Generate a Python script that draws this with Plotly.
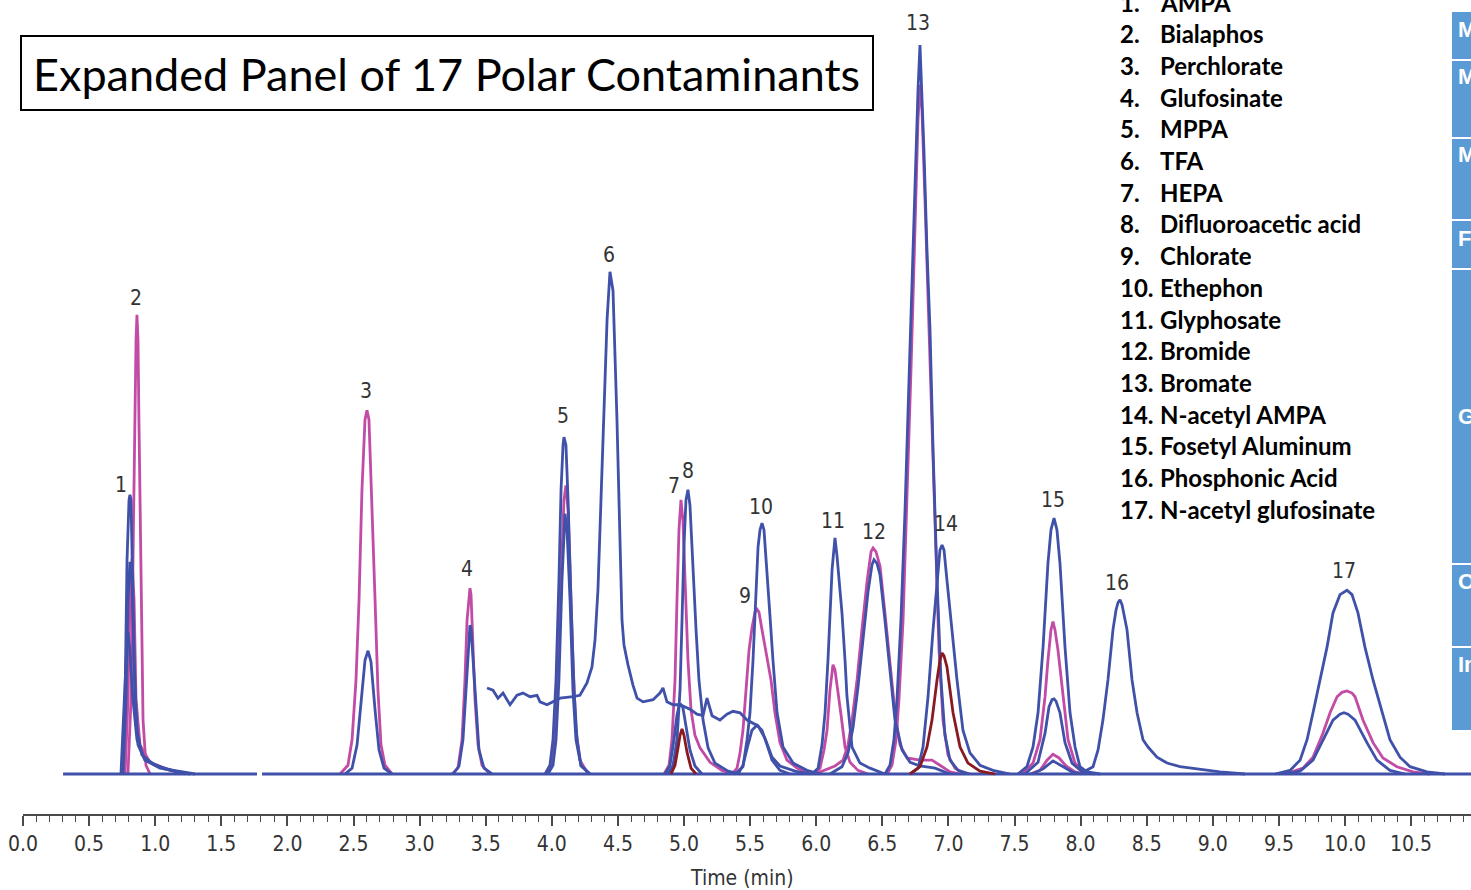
import plotly.graph_objects as go

# ---------------------------------------------------------------------------
# Chromatogram traces: (retention time [min], relative response [% of Bromate])
# ---------------------------------------------------------------------------
baseline_a = [(0.303, 0), (1.770, 0)]
baseline_b = [(1.808, 0), (11.00, 0)]

p1_blue_a = [(0.749, 0), (0.772, 10.2), (0.787, 29.4), (0.802, 37.6), (0.809, 38.3), (0.817, 37.6),
             (0.832, 23.9), (0.847, 10.2), (0.870, 4.0), (0.923, 1.9), (1.036, 0.8), (1.188, 0.3), (1.301, 0)]
p1_blue_b = [(0.756, 0), (0.779, 10.2), (0.794, 23.9), (0.809, 29.1), (0.825, 26.6), (0.840, 15.6),
             (0.862, 6.0), (0.900, 2.6), (0.998, 1.2), (1.150, 0.4), (1.263, 0)]
p1_blue_c = [(0.741, 0), (0.764, 10.2), (0.787, 18.4), (0.794, 19.5), (0.809, 17.0), (0.832, 10.2),
             (0.862, 4.7), (0.923, 1.9), (1.074, 0.7), (1.225, 0)]
p1_magenta = [(0.772, 0), (0.794, 10.2), (0.809, 23.9), (0.825, 29.6), (0.840, 23.9), (0.855, 10.2),
              (0.885, 4.0), (0.961, 1.6), (1.112, 0.5), (1.263, 0)]
p2_magenta = [(0.794, 0), (0.817, 10.2), (0.832, 29.4), (0.847, 51.3), (0.855, 59.5), (0.862, 63.0),
              (0.870, 59.5), (0.877, 48.6), (0.893, 23.9), (0.908, 7.4), (0.930, 1.2), (0.961, 0)]

p3_magenta = [(2.398, 0), (2.458, 1.2), (2.489, 4.7), (2.519, 12.9), (2.542, 23.9), (2.564, 39.0),
              (2.587, 48.6), (2.602, 49.9), (2.617, 48.6), (2.640, 37.6), (2.663, 23.9), (2.685, 11.5),
              (2.708, 4.0), (2.738, 1.2), (2.791, 0)]
p3_blue = [(2.436, 0), (2.489, 0.8), (2.527, 4.0), (2.557, 10.2), (2.587, 15.6), (2.610, 16.9),
           (2.632, 15.4), (2.663, 8.8), (2.693, 3.3), (2.731, 0.8), (2.791, 0)]

p4_magenta = [(3.245, 0), (3.290, 0.8), (3.321, 4.7), (3.343, 12.9), (3.359, 21.1), (3.374, 25.0),
              (3.381, 25.5), (3.389, 24.6), (3.404, 18.4), (3.419, 10.2), (3.442, 4.0), (3.472, 1.2), (3.533, 0)]
p4_blue = [(3.253, 0), (3.298, 1.1), (3.328, 4.7), (3.351, 11.5), (3.366, 17.0), (3.381, 20.4),
           (3.389, 20.0), (3.404, 15.6), (3.427, 8.1), (3.449, 3.3), (3.487, 0.8), (3.548, 0)]

p5_blue_a = [(3.949, 0), (3.986, 1.2), (4.009, 4.7), (4.032, 12.9), (4.054, 26.6), (4.070, 39.0),
             (4.085, 45.1), (4.092, 46.2), (4.107, 45.1), (4.123, 37.6), (4.145, 23.9), (4.168, 11.5),
             (4.191, 4.7), (4.221, 1.2), (4.289, 0)]
p5_magenta = [(3.964, 0), (4.002, 1.2), (4.024, 4.7), (4.047, 12.9), (4.070, 26.6), (4.092, 37.6),
              (4.107, 39.6), (4.123, 36.2), (4.138, 28.0), (4.160, 15.6), (4.183, 6.0), (4.213, 1.9), (4.274, 0)]
p5_blue_b = [(3.971, 0), (4.009, 1.2), (4.032, 4.7), (4.054, 12.9), (4.077, 26.6), (4.092, 34.2),
             (4.100, 35.7), (4.115, 33.5), (4.138, 23.9), (4.160, 11.5), (4.183, 4.7), (4.221, 1.1), (4.289, 0)]

# TFA channel: raised noisy background with the large peak 6
p6_blue = [(3.510, 11.8), (3.555, 11.5), (3.593, 10.4), (3.631, 11.1), (3.684, 9.5), (3.737, 10.8),
           (3.782, 11.1), (3.835, 10.6), (3.888, 10.8), (3.911, 9.9), (3.964, 9.5), (4.009, 9.9),
           (4.062, 10.4), (4.160, 10.6), (4.213, 10.8), (4.266, 12.5), (4.304, 14.7), (4.327, 18.4),
           (4.349, 25.2), (4.372, 37.6), (4.395, 51.3), (4.418, 62.3), (4.440, 68.9), (4.463, 66.3),
           (4.493, 48.6), (4.516, 33.5), (4.531, 21.1), (4.546, 17.7), (4.576, 15.0), (4.614, 12.2),
           (4.645, 10.4), (4.690, 9.9), (4.766, 10.2), (4.818, 11.1), (4.841, 11.8), (4.871, 9.9),
           (4.917, 9.5), (4.970, 9.5), (5.045, 8.9), (5.098, 8.2), (5.144, 8.0), (5.174, 10.4),
           (5.212, 8.0), (5.272, 7.4), (5.325, 8.2), (5.371, 8.6), (5.424, 8.4), (5.477, 7.4),
           (5.522, 7.0), (5.560, 6.6), (5.613, 4.9), (5.666, 2.3), (5.726, 1.1), (5.840, 0.4), (5.953, 0)]

p7_magenta = [(4.849, 0), (4.887, 1.2), (4.909, 4.7), (4.932, 12.9), (4.947, 23.9), (4.962, 33.5),
              (4.977, 37.6), (4.992, 34.8), (5.008, 26.6), (5.030, 15.6), (5.053, 8.8), (5.083, 5.3),
              (5.121, 3.6), (5.197, 1.6), (5.287, 0.5), (5.386, 0)]
p7_blue = [(4.856, 0), (4.894, 1.2), (4.924, 4.7), (4.947, 8.1), (4.962, 9.3), (4.977, 9.5),
           (4.992, 9.1), (5.015, 6.7), (5.045, 3.3), (5.083, 1.1), (5.136, 0)]
p7_darkred = [(4.902, 0), (4.932, 1.2), (4.955, 3.6), (4.970, 5.3), (4.985, 6.2), (5.000, 5.3),
              (5.023, 3.0), (5.053, 0.8), (5.091, 0)]
p8_blue = [(4.879, 0), (4.917, 1.2), (4.947, 4.7), (4.970, 11.5), (4.985, 21.1), (5.000, 31.4),
           (5.015, 37.6), (5.030, 39.0), (5.045, 36.9), (5.068, 28.0), (5.091, 19.8), (5.113, 12.9),
           (5.144, 7.4), (5.182, 3.6), (5.234, 1.5), (5.333, 0.4), (5.424, 0)]

p9_magenta = [(5.363, 0), (5.401, 0.8), (5.424, 2.9), (5.446, 6.0), (5.469, 11.5), (5.492, 17.0),
              (5.514, 20.0), (5.537, 22.2), (5.552, 22.6), (5.567, 22.2), (5.590, 19.8), (5.613, 17.4),
              (5.635, 15.4), (5.658, 12.9), (5.688, 8.4), (5.726, 4.3), (5.779, 1.9), (5.855, 0.8), (5.953, 0)]
p9_blue = [(5.409, 0), (5.446, 1.2), (5.484, 4.0), (5.514, 6.0), (5.552, 6.7), (5.590, 6.0),
           (5.628, 4.0), (5.666, 1.9), (5.726, 0.5), (5.802, 0)]
p10_blue = [(5.386, 0), (5.446, 1.0), (5.477, 4.7), (5.499, 8.4), (5.522, 15.6), (5.537, 22.1),
            (5.560, 31.1), (5.575, 33.5), (5.590, 34.4), (5.605, 33.5), (5.628, 28.0), (5.650, 21.8),
            (5.673, 15.6), (5.704, 8.4), (5.749, 3.7), (5.825, 1.5), (5.930, 0.5), (6.029, 0)]

p11_blue = [(5.968, 0), (6.014, 0.8), (6.044, 4.0), (6.067, 8.4), (6.089, 15.6), (6.104, 22.1),
            (6.120, 28.0), (6.142, 32.4), (6.157, 30.0), (6.180, 25.2), (6.195, 22.1), (6.218, 15.6),
            (6.233, 10.6), (6.271, 3.7), (6.331, 1.5), (6.407, 0.8), (6.520, 0)]
p11_magenta = [(5.991, 0), (6.029, 0.8), (6.059, 3.3), (6.082, 6.0), (6.104, 11.5), (6.127, 15.0),
               (6.142, 14.3), (6.165, 11.5), (6.188, 8.1), (6.218, 3.7), (6.256, 1.6), (6.316, 0.5), (6.392, 0)]

p12_magenta = [(5.991, 0), (6.067, 0.5), (6.142, 1.1), (6.203, 1.9), (6.241, 4.0), (6.271, 7.4),
               (6.309, 12.9), (6.346, 19.8), (6.384, 26.3), (6.415, 30.5), (6.430, 31.0), (6.452, 30.5),
               (6.483, 28.5), (6.520, 22.1), (6.558, 15.2), (6.596, 8.4), (6.634, 4.0), (6.687, 2.2),
               (6.785, 1.9), (6.876, 1.9), (6.936, 1.2), (7.012, 0.3), (7.088, 0)]
p12_blue = [(6.104, 0), (6.195, 1.0), (6.241, 2.9), (6.279, 6.4), (6.316, 11.9), (6.354, 18.4),
            (6.392, 25.0), (6.422, 28.7), (6.437, 29.4), (6.460, 28.9), (6.483, 27.3), (6.520, 21.1),
            (6.558, 14.3), (6.596, 7.4), (6.649, 3.3), (6.710, 1.6), (6.785, 1.1), (6.899, 0.8), (7.012, 0)]

p13_magenta = [(6.536, 0), (6.573, 1.2), (6.604, 4.7), (6.626, 10.2), (6.657, 21.1), (6.687, 37.6),
               (6.717, 55.4), (6.747, 74.6), (6.770, 89.7), (6.785, 94.5), (6.800, 91.1), (6.823, 78.7),
               (6.846, 65.0), (6.868, 51.3), (6.899, 33.5), (6.929, 17.0), (6.959, 7.4), (6.997, 2.6),
               (7.050, 0.8), (7.126, 0)]
p13_blue = [(6.520, 0), (6.558, 1.2), (6.588, 4.7), (6.611, 10.2), (6.641, 21.1), (6.672, 36.2),
            (6.702, 54.0), (6.732, 71.9), (6.755, 85.6), (6.770, 93.8), (6.785, 100.0), (6.800, 93.8),
            (6.815, 85.6), (6.838, 71.9), (6.861, 60.9), (6.884, 44.4), (6.914, 26.6), (6.944, 12.9),
            (6.974, 5.3), (7.012, 1.9), (7.073, 0.5), (7.163, 0)]

p14_blue = [(6.710, 0), (6.770, 0.8), (6.808, 3.7), (6.846, 10.6), (6.884, 19.8), (6.914, 26.6),
            (6.936, 30.7), (6.952, 31.4), (6.967, 30.7), (6.989, 26.6), (7.027, 19.8), (7.065, 12.9),
            (7.110, 6.0), (7.163, 2.9), (7.239, 1.2), (7.337, 0.5), (7.466, 0)]
p14_darkred = [(6.710, 0), (6.785, 1.0), (6.838, 3.7), (6.876, 7.4), (6.914, 12.9), (6.936, 15.6),
               (6.952, 16.6), (6.967, 16.2), (6.989, 14.7), (7.012, 11.5), (7.035, 8.4), (7.088, 3.7),
               (7.148, 1.5), (7.239, 0.4), (7.352, 0)]

p15_blue_a = [(7.526, 0), (7.594, 1.0), (7.640, 3.7), (7.678, 8.4), (7.716, 17.4), (7.753, 28.9),
              (7.776, 33.5), (7.799, 35.1), (7.821, 33.5), (7.844, 28.9), (7.882, 17.4), (7.920, 8.4),
              (7.958, 3.7), (7.995, 1.0), (8.048, 0.3), (8.147, 0)]
p15_magenta_a = [(7.557, 0), (7.640, 1.5), (7.693, 4.7), (7.731, 10.6), (7.753, 15.6), (7.776, 19.8),
                 (7.791, 20.9), (7.806, 19.8), (7.829, 17.0), (7.867, 10.6), (7.905, 4.7), (7.958, 1.5),
                 (8.018, 0.3), (8.109, 0)]
p15_blue_b = [(7.579, 0), (7.678, 1.6), (7.731, 5.6), (7.761, 9.2), (7.784, 10.2), (7.799, 10.3),
              (7.814, 10.0), (7.844, 8.4), (7.882, 4.3), (7.935, 1.5), (8.011, 0.3), (8.086, 0)]
p15_magenta_b = [(7.617, 0), (7.693, 0.5), (7.746, 1.9), (7.791, 2.7), (7.837, 2.2), (7.890, 1.1),
                 (7.958, 0.3), (8.033, 0)]
p15_blue_c = [(7.632, 0), (7.716, 0.7), (7.791, 1.8), (7.859, 1.1), (7.935, 0.3), (8.011, 0)]

p16_blue = [(7.995, 0), (8.094, 1.0), (8.132, 3.3), (8.169, 7.4), (8.207, 12.9), (8.245, 19.8),
            (8.268, 22.5), (8.283, 23.5), (8.298, 23.9), (8.314, 23.2), (8.329, 21.8), (8.351, 19.8),
            (8.389, 12.9), (8.427, 8.4), (8.472, 4.7), (8.510, 3.7), (8.578, 2.3), (8.654, 1.5),
            (8.752, 1.0), (8.880, 0.7), (9.054, 0.3), (9.244, 0)]

p17_blue_a = [(9.471, 0), (9.584, 0.5), (9.660, 1.9), (9.713, 4.7), (9.758, 8.4), (9.811, 12.9),
              (9.864, 17.4), (9.909, 22.1), (9.962, 24.6), (10.015, 25.2), (10.053, 24.6), (10.098, 22.1),
              (10.151, 17.4), (10.212, 12.9), (10.280, 8.4), (10.340, 4.7), (10.416, 2.3), (10.492, 1.0),
              (10.620, 0.3), (10.756, 0)]
p17_magenta = [(9.546, 0), (9.682, 0.8), (9.758, 2.3), (9.833, 5.6), (9.887, 8.4), (9.940, 10.6),
               (9.977, 11.2), (10.015, 11.4), (10.053, 11.1), (10.076, 10.6), (10.136, 7.4), (10.212, 4.3),
               (10.287, 2.2), (10.393, 1.0), (10.514, 0.3), (10.643, 0)]
p17_blue_b = [(9.546, 0), (9.660, 0.4), (9.758, 1.9), (9.833, 4.7), (9.909, 7.4), (9.962, 8.2),
              (9.992, 8.4), (10.023, 8.2), (10.076, 7.4), (10.166, 4.3), (10.242, 1.9), (10.340, 0.5),
              (10.454, 0)]

# Peak numbers and where they sit (time, response)
peak_numbers = list(range(1, 18))
label_t = [0.741, 0.855, 2.595, 3.358, 4.085, 4.433, 4.924, 5.030, 5.461, 5.582,
           6.127, 6.437, 6.770, 6.982, 7.791, 8.275, 9.993]
label_i = [39.6, 65.3, 52.5, 28.1, 49.1, 71.2, 39.5, 41.6, 24.4, 36.6,
           34.7, 33.2, 103.0, 34.3, 37.6, 26.2, 27.8]

compounds = ["AMPA", "Bialaphos", "Perchlorate", "Glufosinate", "MPPA", "TFA", "HEPA",
             "Difluoroacetic acid", "Chlorate", "Ethephon", "Glyphosate", "Bromide", "Bromate",
             "N-acetyl AMPA", "Fosetyl Aluminum", "Phosphonic Acid", "N-acetyl glufosinate"]

side_tabs = ["M", "M", "M", "F", "G", "O", "In"]

# ---------------------------------------------------------------------------
BLUE = "#3f51a9"
MAGENTA = "#c24ba5"
DARKRED = "#8a1a22"
W, H = 1471, 890
ML = 23  # left margin in px: time 0.0 sits here

NARROW = "Liberation Sans Narrow, DejaVu Sans Condensed, Roboto, sans-serif"

magenta_set = [p1_magenta, p2_magenta, p3_magenta, p4_magenta, p5_magenta, p7_magenta, p9_magenta,
               p11_magenta, p12_magenta, p13_magenta, p15_magenta_a, p15_magenta_b, p17_magenta]
blue_set = [baseline_a, baseline_b, p1_blue_c, p1_blue_b, p1_blue_a, p3_blue, p4_blue, p5_blue_b,
            p5_blue_a, p6_blue, p7_blue, p8_blue, p9_blue, p10_blue, p11_blue, p12_blue, p13_blue,
            p14_blue, p15_blue_c, p15_blue_b, p15_blue_a, p16_blue, p17_blue_b, p17_blue_a]
darkred_set = [p7_darkred, p14_darkred]

fig = go.Figure()
for group, color in ((magenta_set, MAGENTA), (blue_set, BLUE), (darkred_set, DARKRED)):
    for tr in group:
        fig.add_trace(go.Scatter(
            x=[p[0] for p in tr], y=[p[1] for p in tr], mode="lines",
            line=dict(color=color, width=2.8), hoverinfo="skip", showlegend=False))


def px_x(px):
    return (px - ML) / (W - ML)


def px_y(py):
    return 1 - py / H


annotations = []
for n, t, i in zip(peak_numbers, label_t, label_i):
    annotations.append(dict(x=t, y=i, xref="x", yref="y", text=str(n), showarrow=False,
                            xanchor="center", yanchor="middle",
                            font=dict(family=NARROW, size=21, color="#333333")))

annotations.append(dict(x=px_x(742), y=px_y(878), xref="paper", yref="paper", text="Time (min)",
                        showarrow=False, xanchor="center", yanchor="middle",
                        font=dict(family=NARROW, size=21, color="#333333")))

annotations.append(dict(x=px_x(447), y=px_y(74), xref="paper", yref="paper",
                        text="Expanded Panel of 17 Polar Contaminants", showarrow=False,
                        xanchor="center", yanchor="middle",
                        font=dict(family="Lato, Open Sans, sans-serif", size=45, color="#000000")))

for k, name in enumerate(compounds):
    yy = px_y(2.3 + k * 31.67)
    annotations.append(dict(x=px_x(1118), y=yy, xref="paper", yref="paper", text=f"<b>{k + 1}.</b>",
                            showarrow=False, xanchor="left", yanchor="middle",
                            font=dict(family="Lato, sans-serif", size=24, color="#000000")))
    annotations.append(dict(x=px_x(1158), y=yy, xref="paper", yref="paper", text=f"<b>{name}</b>",
                            showarrow=False, xanchor="left", yanchor="middle",
                            font=dict(family="Lato, sans-serif", size=24, color="#000000")))

shapes = [dict(type="rect", xref="paper", yref="paper", x0=px_x(21), x1=px_x(873),
               y0=px_y(110), y1=px_y(36), line=dict(color="#000000", width=2), layer="above")]

tab_bounds = [(12, 59), (61, 137), (139, 219), (221, 268), (270, 563), (565, 646), (648, 730)]
tab_text_y = [30, 77, 155, 238, 416, 581, 664]
for (top, bot), txt, ty in zip(tab_bounds, side_tabs, tab_text_y):
    shapes.append(dict(type="rect", xref="paper", yref="paper", x0=px_x(1452), x1=px_x(1490),
                       y0=px_y(bot), y1=px_y(top), line=dict(width=0), fillcolor="#5b9bd5"))
    annotations.append(dict(x=px_x(1456), y=px_y(ty), xref="paper", yref="paper", text=f"<b>{txt}</b>",
                            showarrow=False, xanchor="left", yanchor="middle",
                            font=dict(family="Liberation Sans, Arial, sans-serif", size=22,
                                      color="#ffffff")))

fig.update_layout(
    width=W, height=H,
    margin=dict(l=ML, r=0, t=0, b=0, pad=0),
    paper_bgcolor="#ffffff", plot_bgcolor="#ffffff",
    xaxis=dict(range=[0, (W - ML) / 132.2], domain=[0, 1], anchor="free", position=px_y(815),
               showline=True, linecolor="#4a4a4a", linewidth=2,
               ticks="outside", ticklen=10, tickwidth=1.5, tickcolor="#4a4a4a",
               tick0=0, dtick=0.5, tickformat=".1f",
               tickfont=dict(family=NARROW, size=21, color="#333333"),
               showgrid=False, zeroline=False,
               minor=dict(dtick=0.1, tick0=0, ticks="outside", ticklen=6, tickwidth=1.2,
                          tickcolor="#4a4a4a", showgrid=False)),
    yaxis=dict(range=[-(H - 774) / 7.29, 774 / 7.29], domain=[0, 1], visible=False),
    annotations=annotations, shapes=shapes,
    showlegend=False,
)

fig.write_html("out.html")
